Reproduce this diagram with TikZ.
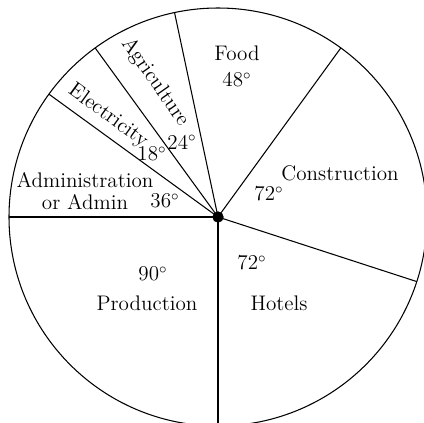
\documentclass[tikz,border=0pt]{standalone}
\begin{document}
\begin{tikzpicture}[x=0.02cm,y=0.02cm]
        \tikzstyle{every node}=[font=\fontsize{12}{14}\selectfont, inner sep=1pt]
        \tikzstyle{edge}=[line width=0.6pt]
        \useasboundingbox (-218,-206) rectangle (206,217);
        \clip (-218,-206) rectangle (206,217);

        % the pie
        \coordinate (centre) at (0,0);
        \draw[edge] (centre) circle (209);
        \foreach \ang/\nm in {54/foodcon, 102/agrifood, 126/elecagri, 144/adminelec, 180/prodadmin, 270/hotelprod, 342/conhotel}
            \coordinate (\nm) at (\ang:209);

        % spokes
        \draw[edge] (centre) -- (foodcon);
        \draw[edge] (centre) -- (agrifood);
        \draw[edge] (centre) -- (elecagri);
        \draw[edge] (centre) -- (adminelec);
        \draw[edge] (centre) -- (prodadmin);
        \draw[edge] (centre) -- (hotelprod);
        \draw[edge] (centre) -- (conhotel);
        \node[draw,fill=black,circle,inner sep=0pt,minimum size=6pt] (hub) at (centre) {};

        % food
        \node (food) at (19,164) {Food};
        \node (fooddeg) at (19,137) {48$^\circ$};

        % construction
        \node (construction) at (122,44) {Construction};
        \node (condeg) at (51,23) {72$^\circ$};

        % agriculture
        \node[rotate=-55] (agriculture) at (-63,135) {Agriculture};
        \node (agrideg) at (-36,75) {24$^\circ$};

        % electricity
        \node[rotate=-36] (electricity) at (-110,101) {Electricity};
        \node (elecdeg) at (-66,63) {18$^\circ$};

        % administration
        \node (admin) at (-133,37) {Administration};
        \node (admin2) at (-133,15) {or Admin};
        \node (admindeg) at (-53,16) {36$^\circ$};

        % production
        \node (proddeg) at (-65,-57) {90$^\circ$};
        \node (production) at (-71,-86) {Production};

        % hotels
        \node (hoteldeg) at (34,-46) {72$^\circ$};
        \node (hotels) at (61,-86) {Hotels};
\end{tikzpicture}
\end{document}
